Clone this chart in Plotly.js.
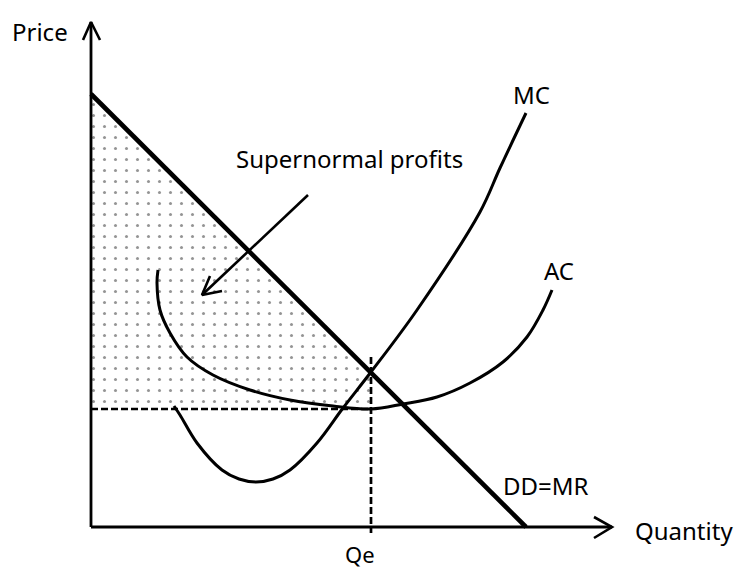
<!DOCTYPE html>
<html>
<head>
<meta charset="utf-8">
<script src="https://cdn.plot.ly/plotly-3.0.1.min.js"></script>
<style>html,body{margin:0;padding:0;background:#fff;}#chart{width:736px;height:571px;}</style>
</head>
<body>
<div id="chart"></div>
<script>
// Quantity (x) and Price (y) in arbitrary diagram units
var demandQ = [0, 43.5];
var demandP = [43.3, 0];

var mcQ = [8.3, 8.9, 10.6, 13.1, 14.8, 16.5, 18.2, 19.9, 22.6, 25.2, 28.0, 32.6, 38.9, 40.9, 43.5];
var mcP = [12.1, 11.2, 8.4, 5.7, 4.8, 4.5, 4.8, 5.7, 8.4, 11.9, 15.5, 21.7, 31.5, 35.9, 41.4];

var acQ = [6.7, 6.6, 6.9, 7.9, 9.6, 12.2, 15.9, 19.9, 24.2, 28.0, 31.2, 34.6, 37.9, 41.2, 43.6, 45.2, 46.1];
var acP = [25.7, 24.4, 21.7, 19.4, 17.0, 15.2, 13.7, 12.7, 12.1, 11.8, 12.3, 13.0, 14.4, 16.5, 19.0, 21.7, 23.7];

var Qe = 28.0;
var Pe = 15.43;
var ACe = 11.8;

var profitQ = [0, 0, Qe, Qe];
var profitP = [ACe, 43.3, Pe, ACe];

var qeDashQ = [Qe, Qe];
var qeDashP = [17.0, -0.6];
var acDashQ = [0, Qe];
var acDashP = [ACe, ACe];

var yAxisQ = [0, 0];
var yAxisP = [0, 50.5];
var yHeadQ = [-0.8, 0, 0.9];
var yHeadP = [48.7, 50.5, 48.7];
var xAxisQ = [0, 52.1];
var xAxisP = [0, 0];
var xHeadQ = [50.3, 52.1, 50.3];
var xHeadP = [1.0, 0, -1.1];

var pointerQ = [21.7, 11.1];
var pointerP = [33.2, 23.2];
var pointerHeadQ = [13.1, 11.1, 11.9];
var pointerHeadP = [23.6, 23.2, 25.1];

var labels = ["Price", "MC", "AC", "DD=MR", "Quantity", "Supernormal profits"];
var labelQ = [-8.1, 42.0, 45.1, 41.0, 54.2, 14.3];
var labelP = [49.6, 43.3, 25.7, 4.2, -0.3, 36.9];
var qeLabel = "Qe";
var qeLabelQ = 25.3;
var qeLabelP = -4.3;

function line(x, y, w, dash, shape) {
  return {x: x, y: y, mode: 'lines', type: 'scatter', hoverinfo: 'skip',
    line: {color: '#000', width: w, dash: dash || 'solid', shape: shape || 'linear'}};
}

var traces = [
  {x: profitQ, y: profitP, type: 'scatter', mode: 'lines', fill: 'toself',
   line: {width: 0, color: 'rgba(0,0,0,0)'}, fillcolor: 'rgba(255,255,255,0)',
   fillpattern: {shape: '.', size: 11, solidity: 0.06, fgcolor: '#2a2a2a', bgcolor: 'rgba(255,255,255,0)', fillmode: 'overlay'},
   hoverinfo: 'skip'},
  line(acDashQ, acDashP, 2.7, '7px,3px'),
  line(qeDashQ, qeDashP, 2.7, '7px,3px'),
  line(yAxisQ, yAxisP, 2.8),
  line(yHeadQ, yHeadP, 2.6),
  line(xAxisQ, xAxisP, 2.8),
  line(xHeadQ, xHeadP, 2.6),
  line(demandQ, demandP, 4.6),
  line(mcQ, mcP, 3, 'solid', 'spline'),
  line(acQ, acP, 3, 'solid', 'spline'),
  line(pointerQ, pointerP, 2.6),
  line(pointerHeadQ, pointerHeadP, 2.6)
];

var font = {family: 'Noto Sans, Open Sans, sans-serif', size: 24, color: '#000'};
var annotations = labels.map(function (t, i) {
  return {x: labelQ[i], y: labelP[i], xref: 'x', yref: 'y', text: t, showarrow: false,
    xanchor: 'left', yanchor: 'middle', font: font};
});
annotations.push({x: qeLabelQ, y: qeLabelP, xref: 'x', yref: 'y', text: qeLabel, showarrow: false,
  xanchor: 'left', yanchor: 'bottom', borderpad: 0,
  font: {family: 'Noto Sans, Open Sans, sans-serif', size: 22, color: '#000'}});

var layout = {
  width: 736, height: 571,
  margin: {l: 0, r: 0, t: 0, b: 0, pad: 0},
  paper_bgcolor: '#fff', plot_bgcolor: '#fff',
  showlegend: false,
  xaxis: {range: [-9.1, 64.5], visible: false, fixedrange: true},
  yaxis: {range: [-4.4, 52.7], visible: false, fixedrange: true},
  annotations: annotations
};

Plotly.newPlot('chart', traces, layout, {staticPlot: true, displayModeBar: false});
</script>
</body>
</html>
